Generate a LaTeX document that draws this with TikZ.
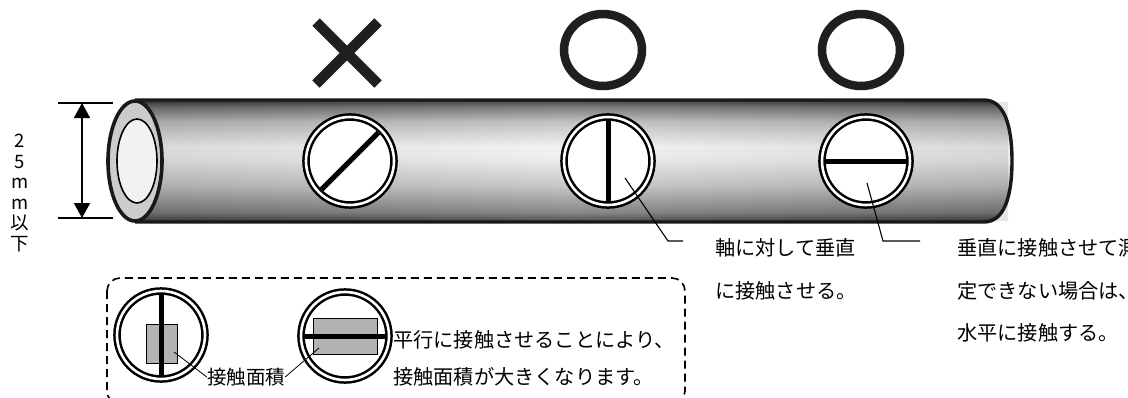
\documentclass[tikz,border=0pt]{standalone}
\usepackage{fontspec}
\newfontfamily\jp{Noto Sans CJK JP}
\usetikzlibrary{arrows.meta,calc}

% cylinder body: dark rims, bright band a little above the axis
\pgfdeclareverticalshading{tubeshade}{100bp}{%
  color(0bp)=(black!78); color(25bp)=(black!78); color(29bp)=(black!52);
  color(40bp)=(black!24); color(51bp)=(black!7); color(56bp)=(black!5);
  color(66bp)=(black!26); color(72bp)=(black!55); color(75bp)=(black!80);
  color(100bp)=(black!80)}

\tikzset{
  txt/.style={font=\jp\fontsize{20.2}{24}\selectfont, inner sep=0pt, anchor=west},
  probe/.style={circle, minimum size=88pt, inner sep=0pt, outer sep=0pt,
    draw=black, line width=2.5pt, double=white, double distance=2.6pt, fill=white},
  probeline/.style={line width=5pt, black, shorten <=3.8pt, shorten >=3.8pt},
  leader/.style={line width=1.1pt, black},
  okmark/.style={line width=8.5pt, black!88},
  pad/.style={fill=black!30, draw=black, line width=0.8pt},
  dashbox/.style={line width=1.6pt, dash pattern=on 8pt off 5pt, rounded corners=13pt},
  dimline/.style={line width=1.3pt},
}

\begin{document}
\begin{tikzpicture}[x=1pt, y=-1pt]
\clip (0,0) rectangle (1128,397);
\fill[white] (0,0) rectangle (1128,397);

% ---- tube body ----
\path[shading=tubeshade] (135,100) -- (984,100)
  .. controls (1004,100) and (1012,125) .. (1012,161)
  .. controls (1012,197) and (1004,222) .. (984,222) -- (135,222) -- cycle;
% slightly darker towards both ends
\path[left color=black, right color=black, middle color=white, opacity=0.10]
  (135,102) rectangle (1008,220);
\draw[line width=3.4pt, black!90] (135,100) -- (984,100)
  .. controls (1004,100) and (1012,125) .. (1012,161)
  .. controls (1012,197) and (1004,222) .. (984,222) -- (135,222);
% open end
\draw[line width=3.6pt, black!90, fill=black!20] (135,161) ellipse [x radius=27pt, y radius=60pt];
\draw[line width=1.6pt, fill=black!5] (137,161) ellipse [x radius=20pt, y radius=42pt];

% ---- diameter dimension ----
\coordinate (dimT) at (82,103);
\coordinate (dimB) at (82,218);
\draw[dimline] (58,103) -- (113,103);
\draw[dimline] (58,218) -- (113,218);
\draw[line width=1.8pt, {Triangle[length=15pt,width=16pt]}-{Triangle[length=15pt,width=16pt]}] (dimT) -- (dimB);
\node[font=\jp\fontsize{18.5}{20.5}\selectfont, align=center, inner sep=0pt] (dimtxt) at (20,193)
  {2\\5\\m\\m\\以\\下};

% ---- probe positions on the tube ----
\node[probe] (c1) at (350,161) {};
\node[probe] (c2) at (608,161) {};
\node[probe] (c3) at (866,161) {};
\draw[probeline] (c1.225) -- (c1.45);
\draw[probeline] (c2.90) -- (c2.270);
\draw[probeline] (c3.180) -- (c3.0);

% ---- judgement marks ----
\draw[line width=10.5pt, black!88] (316,22) -- (378,84);
\draw[line width=10.5pt, black!88] (316,84) -- (378,22);
\draw[okmark] (603,50) ellipse [x radius=39pt, y radius=36pt];
\draw[okmark] (861,50) ellipse [x radius=39pt, y radius=36pt];

% ---- notes ----
\node[txt] (n1a) at (715,248) {軸に対して垂直};
\node[txt] (n1b) at (715,291) {に接触させる。};
\node[txt] (n2a) at (957,248) {垂直に接触させて測};
\node[txt] (n2b) at (957,291) {定できない場合は、};
\node[txt] (n2c) at (957,333) {水平に接触する。};

\coordinate (l1a) at (625,178);
\coordinate (l1b) at (668,241);
\coordinate (l1c) at (683,241);
\draw[leader] (l1a) -- (l1b) -- (l1c);
\coordinate (l2a) at (867,183);
\coordinate (l2b) at (883,241);
\coordinate (l2c) at (920,241);
\draw[leader] (l2a) -- (l2b) -- (l2c);

% ---- contact area comparison ----
\draw[dashbox] (107,278) rectangle (685,404);

\node[probe] (s1) at (161,335) {};
\node[probe] (s2) at (345,336) {};
\draw[pad] (146,324) rectangle (177,363);
\draw[pad] (313,318) rectangle (377,354);
\draw[probeline] (s1.90) -- (s1.270);
\draw[probeline] (s2.180) -- (s2.0);

\node[txt, anchor=center, font=\jp\fontsize{19.5}{23}\selectfont] (area) at (246,377) {接触面積};
\coordinate (p1) at (174,352);
\coordinate (p2) at (319,348);
\draw[leader, line width=0.8pt] (p1) -- (area.west);
\draw[leader, line width=0.8pt] (p2) -- (area.east);

\node[txt] (m1) at (393,340) {平行に接触させることにより、};
\node[txt] (m2) at (393,377) {接触面積が大きくなります。};
\end{tikzpicture}
\end{document}
